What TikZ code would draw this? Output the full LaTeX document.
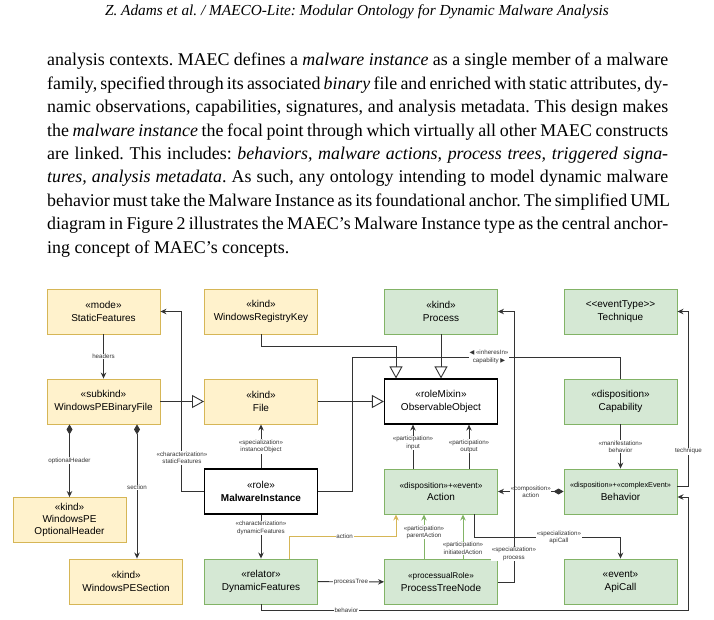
\documentclass[tikz,border=0pt]{standalone}
\usepackage{fontspec}
\setmainfont{Liberation Serif}
\setsansfont{Liberation Sans}
\newfontfamily\symfont{DejaVu Sans}
\usetikzlibrary{arrows.meta,positioning}
\definecolor{pefill}{HTML}{FFF2CC}
\definecolor{peline}{HTML}{D6B656}
\definecolor{dynfill}{HTML}{D5E8D4}
\definecolor{dynline}{HTML}{82B366}
\definecolor{umlgray}{HTML}{333333}
\newcommand\fullline[1]{\hbox to 621pt{#1}}
\frenchspacing

\begin{document}
\begin{tikzpicture}[x=1pt,y=-1pt,
ybox/.style={draw=peline, fill=pefill, line width=0.9pt, minimum width=113pt,
minimum height=45pt, align=center, inner sep=2pt, font=\sffamily\fontsize{10}{12.6}\selectfont},
gbox/.style={ybox, draw=dynline, fill=dynfill},
wbox/.style={ybox, draw=black, fill=white, line width=1.2pt},
lbl/.style={font=\sffamily\fontsize{6.2}{7.4}\selectfont, fill=white, inner sep=0.6pt,
align=center, text=umlgray},
arrow/.style={-{Stealth[length=6pt,width=5.5pt]}, line width=0.9pt, draw=umlgray},
gen/.style={-{Triangle[open,length=12pt,width=13pt]}, line width=0.9pt, draw=umlgray},
comp/.style={{Diamond[length=10pt,width=6pt]}-{Stealth[length=6pt,width=5.5pt]},
line width=0.9pt, draw=umlgray},
plain/.style={line width=0.9pt, draw=umlgray}
]
\useasboundingbox (0,0) rectangle (714,619);

% running head and text
\node[font=\itshape\fontsize{15.3}{18}\selectfont, inner sep=0] (runhead) at (357,12)
{Z. Adams et al. / MAECO-Lite: Modular Ontology for Dynamic Malware Analysis};
\node[font=\fontsize{17.9}{23.4}\selectfont, inner sep=0, align=left, anchor=north west] (para) at (47,53)
{\fullline{analysis contexts. MAEC defines a \textit{malware instance} as a single member of a malware}\\
\fullline{family, specified through its associated \textit{binary} file and enriched with static attributes, dy-}\\
\fullline{namic observations, capabilities, signatures, and analysis metadata. This design makes}\\
\fullline{the \textit{malware instance} the focal point through which virtually all other MAEC constructs}\\
\fullline{are linked. This includes: \textit{behaviors, malware actions, process trees, triggered signa-}}\\
\fullline{\textit{tures, analysis metadata}. As such, any ontology intending to model dynamic malware}\\
\fullline{behavior must take the Malware Instance as its foundational anchor. The simplified UML}\\
\fullline{diagram in Figure 2 illustrates the MAEC's Malware Instance type as the central anchor-}\\
ing concept of MAEC's concepts.};

% classes
\node[ybox] (staticf) at (103.5,311.5) {«mode»\\StaticFeatures};
\node[ybox] (pebin) at (103.5,401.5) {«subkind»\\WindowsPEBinaryFile};
\node[ybox] (regkey) at (261,311.5) {«kind»\\WindowsRegistryKey};
\node[ybox] (file) at (261,401.5) {«kind»\\File};
\node[gbox] (process) at (441,311.5) {«kind»\\Process};
\node[wbox] (obsobj) at (441,401.5) {«roleMixin»\\ObservableObject};
\node[gbox] (technique) at (620.5,311.5) {<\kern0pt<eventType>\kern0pt>\\Technique};
\node[gbox] (capability) at (620.5,401.5) {«disposition»\\Capability};
\node[wbox] (malinst) at (261,491.5) {«role»\\\textbf{MalwareInstance}};
\node[gbox] (action) at (441,491.5) {{\fontsize{8.3}{10}\selectfont«disposition»+«event»}\\Action};
\node[gbox] (behavior) at (620.5,491.5) {{\fontsize{7.3}{10}\selectfont«disposition»+«complexEvent»}\\Behavior};
\node[ybox, font=\sffamily\fontsize{10}{11.6}\selectfont] (optheader) at (69.5,520) {«kind»\\WindowsPE\\OptionalHeader};
\node[ybox] (pesection) at (126,581.5) {«kind»\\WindowsPESection};
\node[gbox] (dynfeat) at (261,581.5) {«relator»\\DynamicFeatures};
\node[gbox] (ptnode) at (441,582) {{\fontsize{8.2}{10}\selectfont«processualRole»}\\ProcessTreeNode};
\node[gbox] (apicall) at (620.5,581.5) {«event»\\ApiCall};

% generalizations
\draw[gen] (pebin) -- (file);
\draw[gen] (file) -- (obsobj);
\draw[gen] (regkey.south) -- ++(0,12) -| ([xshift=-45pt]obsobj.north);
\draw[gen] (process) -- (obsobj);

% associations
\draw[plain] (malinst.east) -- ++(34,0) -- ++(0,-134.5) -| (capability.north);
\draw[arrow] (staticf) -- node[lbl]{headers} (pebin);
\draw[comp] (optheader.north |- pebin.south) -- node[lbl]{optionalHeader} (optheader);
\draw[comp] ([xshift=33.5pt]pebin.south) -- node[lbl,pos=0.47]{section} ([xshift=33.5pt]pebin.south |- pesection.north);
\draw[arrow] (malinst.west) -- ++(-22,0) |- node[lbl,pos=0.093]{«characterization»\\staticFeatures} (staticf.east);
\draw[arrow] (malinst) -- node[lbl]{«specialization»\\instanceObject} (file);
\draw[arrow] (malinst) -- node[lbl,pos=0.3]{«characterization»\\dynamicFeatures} (dynfeat);
\draw[arrow] ([xshift=-28pt]action.north) -- node[lbl,pos=0.58]{«participation»\\input} ([xshift=-28pt]action.north |- obsobj.south);
\draw[arrow] ([xshift=28pt]action.north) -- node[lbl,pos=0.51]{«participation»\\output} ([xshift=28pt]action.north |- obsobj.south);
\draw[arrow] (capability) -- node[lbl]{«manifestation»\\behavior} (behavior);
\draw[arrow] ([yshift=5.5pt]behavior.east) -- ++(11,0) |- node[lbl,pos=0.1]{technique} (technique.east);
\draw[comp] (behavior) -- node[lbl]{«composition»\\action} (action);
\draw[arrow] (dynfeat.south) -- ++(0,6) -- node[lbl,pos=0.2]{behavior} ++(427,0) |- ([yshift=-5.5pt]behavior.east);
\draw[arrow, draw=peline] ([xshift=28pt]dynfeat.north) -- ++(0,-22) -| node[lbl,pos=0.26]{action} ([xshift=-45pt]action.south);
\draw[arrow] (dynfeat) -- node[lbl]{processTree} (ptnode);
\draw[arrow, draw=dynline] ([xshift=-17pt]ptnode.north) -- node[lbl,pos=0.6]{«participation»\\parentAction} ([xshift=-17pt]ptnode.north |- action.south);
\draw[arrow, draw=dynline] ([xshift=22pt]ptnode.north) -- node[lbl,pos=0.24]{«participation»\\initiatedAction} ([xshift=22pt]ptnode.north |- action.south);
\draw[arrow] (ptnode.east) -- ++(16,0) |- node[lbl,pos=0.052]{«specialization»\\process} (process.east);
\draw[arrow] ([xshift=33pt]action.south) -- ++(0,23) -| node[lbl,pos=0.29]{«specialization»\\apiCall} (apicall.north);
\node[lbl] (inheres) at (489,357) {{\symfont ◀} «inheresIn»\\capability {\symfont ▶}};

\end{tikzpicture}
\end{document}
